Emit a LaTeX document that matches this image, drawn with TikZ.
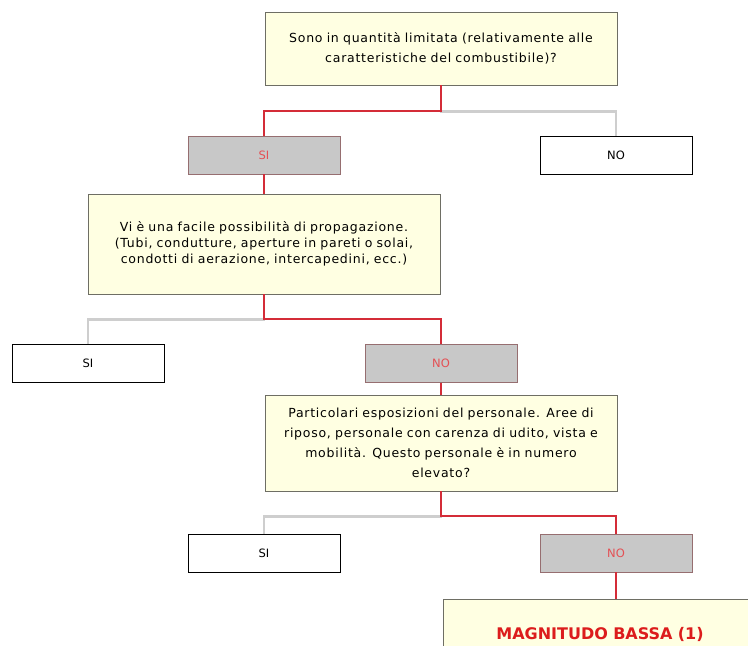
\documentclass[tikz,border=0pt]{standalone}
\usepackage{fontspec}
\setmainfont{DejaVu Sans}
\usepackage{tikz}
\usetikzlibrary{positioning}
\definecolor{askyellow}{RGB}{255,255,226}
\definecolor{askborder}{RGB}{110,110,100}
\definecolor{pickgrey}{RGB}{200,200,200}
\definecolor{pickborder}{RGB}{150,110,112}
\definecolor{pickred}{RGB}{228,80,84}
\definecolor{pathred}{RGB}{212,44,56}
\definecolor{pathgrey}{RGB}{206,206,206}
\definecolor{resultred}{RGB}{220,28,28}

\begin{document}
\begin{tikzpicture}[x=1pt, y=-1pt,
  askbox/.style={draw=askborder, fill=askyellow, line width=0.9pt, minimum width=352pt, text width=350pt, align=center, inner sep=0pt, font=\fontsize{12.5}{20}\selectfont\addfontfeatures{LetterSpace=6}},
  answer/.style={draw=black, fill=white, line width=0.9pt, minimum width=152pt, minimum height=38pt, inner sep=0pt, font=\fontsize{11.5}{12}\selectfont},
  picked/.style={answer, draw=pickborder, fill=pickgrey, text=pickred},
  redpath/.style={draw=pathred, line width=2pt},
  greypath/.style={draw=pathgrey, line width=2.2pt}]

  \fill[white] (0,0) rectangle (748,646);
  \clip (0,0) rectangle (748,646);

  % first question
  \node[askbox, minimum height=73pt] (ask1) at (441, 48.5) {
    Sono in quantità limitata (relativamente alle\\
    caratteristiche del combustibile)?};
  \node[picked] (si1) at (264, 155) {SI};
  \node[answer] (no1) at (616, 155) {NO};

  % second question
  \node[askbox, minimum height=100pt, font=\fontsize{12.5}{16}\selectfont\addfontfeatures{LetterSpace=6}] (ask2) at (264, 244) {
    Vi è una facile possibilità di propagazione.\\
    (Tubi, condutture, aperture in pareti o solai,\\
    condotti di aerazione, intercapedini, ecc.)};
  \node[answer] (si2) at (88, 363.5) {SI};
  \node[picked] (no2) at (441, 363.5) {NO};

  % third question
  \node[askbox, minimum height=96pt] (ask3) at (441, 443) {
    Particolari esposizioni del personale. Aree di\\
    riposo, personale con carenza di udito, vista e\\
    mobilità. Questo personale è in numero\\
    elevato?};
  \node[answer] (si3) at (264, 553) {SI};
  \node[picked] (no3) at (616, 553) {NO};

  % result
  \node[askbox, minimum width=314pt, text width=300pt, minimum height=70pt, font=\fontsize{16}{18}\selectfont\bfseries, text=resultred] (result) at (600, 634) {MAGNITUDO BASSA (1)};

  % connectors
  \draw[greypath] (ask1.south) -- ++(0,26) -| (no1.north);
  \draw[redpath] (ask1.south) -- ++(0,26) -| (si1.north);
  \draw[redpath] (si1.south) -- (ask2.north);
  \draw[greypath] (ask2.south) -- ++(0,25) -| (si2.north);
  \draw[redpath] (ask2.south) -- ++(0,25) -| (no2.north);
  \draw[redpath] (no2.south) -- (ask3.north);
  \draw[greypath] (ask3.south) -- ++(0,25) -| (si3.north);
  \draw[redpath] (ask3.south) -- ++(0,25) -| (no3.north);
  \draw[redpath] (no3.south) -- (no3.south |- result.north);
\end{tikzpicture}
\end{document}
